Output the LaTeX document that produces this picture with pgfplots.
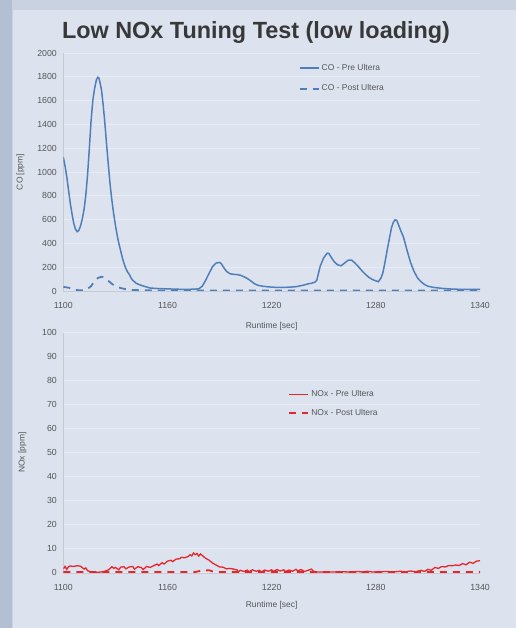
\documentclass[border=0pt]{standalone}
\usepackage{fontspec}
\setmainfont{Liberation Sans}
\usepackage{pgfplots}
\pgfplotsset{compat=1.18}
\definecolor{panel}{HTML}{DCE3EF}
\definecolor{outer}{HTML}{C9D2E1}
\definecolor{strip}{HTML}{B3BFD2}
\definecolor{cob}{HTML}{4F7FBA}
\definecolor{noxr}{HTML}{E5262B}
\definecolor{txt}{HTML}{555555}
\definecolor{gridc}{HTML}{E8EDF5}
\definecolor{axc}{HTML}{C4C9D2}
\pgfplotsset{
  myax/.style={
    scale only axis,
    width=416.7bp,
    xmin=1100, xmax=1340,
    xtick={1100,1160,1220,1280,1340},
    axis x line=bottom, axis y line=left,
    axis line style={axc, -},
    major tick length=0pt,
    ymajorgrids, grid style={gridc, line width=0.8pt},
    tick label style={font=\fontsize{8.8}{9}\selectfont, txt},
    label style={font=\fontsize{8.5}{9}\selectfont, txt},
    /pgf/number format/assume math mode=true,
    /pgf/number format/1000 sep={},
    xticklabel style={yshift=-8bp},
    yticklabel style={xshift=-3bp},
    xlabel={Runtime [sec]},
    legend cell align=left,
    legend style={draw=none, fill=none, font=\fontsize{8.5}{9}\selectfont, text=txt, row sep=9bp, inner sep=0pt},
    legend image code/.code={\draw[#1] (0bp,0bp) -- (19bp,0bp);},
  }
}
\begin{document}
\begin{tikzpicture}
\path[use as bounding box] (0,0) rectangle (516bp,628bp);
\fill[outer] (0,0) rectangle (516bp,628bp);
\fill[strip] (0,0) rectangle (12bp,628bp);
\fill[panel] (13bp,0) rectangle (516bp,618bp);
\node[font=\fontsize{23.5}{26}\selectfont\bfseries, text=black!78, anchor=center] at (256bp,595bp) {Low NOx Tuning Test (low loading)};

\begin{axis}[myax,
  at={(63.3bp,337bp)}, anchor=south west,
  height=238bp,
  ymin=0, ymax=2000,
  ytick={0,200,...,2000},
  ylabel={CO [ppm]},
  ylabel style={yshift=6bp},
  xlabel style={yshift=-7bp},
  legend style={at={(rel axis cs:0.565,0.962)}, anchor=north west},
]
\addplot[cob, line width=1.5pt] coordinates {
(1100,1125) (1101,1050) (1102,960) (1103,850) (1104,740) (1105,650) (1106,570) (1107,520) (1108,498) (1109,510)
(1110,550) (1111,610) (1112,690) (1113,810) (1114,980) (1115,1200) (1116,1430) (1117,1600) (1118,1700) (1119,1770)
(1119.8,1796) (1120.5,1790) (1121,1760) (1122,1690) (1123,1560) (1124,1400) (1125,1220) (1126,1050) (1127,890) (1128,760)
(1129,650) (1130,555) (1131,470) (1132,400) (1133,340) (1134,280) (1135,230) (1136,190) (1137,160) (1138,140)
(1139,110) (1140,90) (1142,65) (1144,52) (1146,42) (1150,25) (1155,20) (1160,18) (1165,15) (1170,14)
(1175,15) (1178,18) (1180,40) (1182,90) (1184,150) (1186,205) (1188,235) (1190,240) (1191,230) (1192,205)
(1194,165) (1196,145) (1198,140) (1200,138) (1202,133) (1204,120) (1206,105) (1208,85) (1210,62) (1212,48)
(1215,40) (1218,35) (1222,31) (1226,30) (1230,32) (1234,36) (1238,48) (1241,60) (1243,65) (1245,75)
(1246,90) (1247,150) (1248,210) (1250,280) (1252,318) (1253,315) (1254,290) (1256,246) (1258,220) (1260,212)
(1262,235) (1264,258) (1266,260) (1268,235) (1270,204) (1272,170) (1274,140) (1276,115) (1278,97) (1280,85)
(1281.5,78) (1283,110) (1284,150) (1285,220) (1286,300) (1287,380) (1288,455) (1289,530) (1290,575) (1291,597)
(1292,595) (1293,560) (1294,520) (1296,450) (1298,340) (1300,240) (1302,165) (1304,110) (1306,78) (1308,55)
(1310,40) (1313,31) (1318,22) (1325,15) (1332,14) (1340,14)
};
\addlegendentry{CO - Pre Ultera}
\addplot[cob, line width=1.8pt, dash pattern=on 7bp off 6bp] coordinates {
(1100,35) (1102,30) (1104,25) (1107,10) (1110,5) (1113,8) (1116,40) (1118,85) (1120,110) (1122,120)
(1124,110) (1126,85) (1128,60) (1130,40) (1133,25) (1136,15) (1140,8) (1150,5) (1340,5)
};
\addlegendentry{CO - Post Ultera}
\end{axis}

\begin{axis}[myax,
  at={(63.3bp,55.3bp)}, anchor=south west,
  height=240bp,
  ymin=0, ymax=100,
  ytick={0,10,...,100},
  ylabel={NOx [ppm]},
  ylabel style={yshift=9bp},
  xlabel style={yshift=-4bp},
  legend style={at={(rel axis cs:0.540,0.767)}, anchor=north west, row sep=7bp},
]
\addplot[noxr, line width=1.3pt] coordinates {
(1100,1.5) (1101,2.6) (1102,1.4) (1103,2.5) (1104,2.8) (1106,2.6) (1108,2.9) (1110,2.7) (1112,1.5) (1113,2.0)
(1114,0.8) (1116,0.3) (1118,0.2) (1120,0.2) (1122,0.3) (1124,0.6) (1126,1.2) (1127,1.8) (1128,2.5) (1129,1.8)
(1130,2.2) (1132,1.2) (1133,2.3) (1135,2.5) (1136,1.6) (1138,2.4) (1140,2.6) (1141,1.5) (1143,2.5) (1145,2.1)
(1146,1.3) (1148,2.6) (1150,2.2) (1152,2.9) (1154,3.6) (1155,3.0) (1157,4.2) (1158,3.6) (1160,4.8) (1162,5.2)
(1163,4.6) (1165,5.7) (1167,5.8) (1168,6.4) (1170,6.2) (1172,6.8) (1173,7.5) (1174,7.0) (1175,8.2) (1176,7.5)
(1177,8.0) (1178,6.9) (1179,7.8) (1180,7.2) (1182,6.0) (1184,5.2) (1186,4.0) (1188,3.2) (1190,2.4) (1192,2.3)
(1194,1.6) (1196,1.8) (1198,1.5) (1200,1.2) (1201,0.4) (1202,1.0) (1204,0.5) (1206,1.1) (1207,0.4) (1209,1.2)
(1211,0.6) (1213,1.0) (1214,0.3) (1216,1.1) (1218,0.6) (1220,1.2) (1221,0.5) (1223,1.3) (1225,0.7) (1227,1.2)
(1228,0.5) (1230,1.1) (1232,0.6) (1234,1.4) (1235,0.8) (1237,1.3) (1239,0.5) (1241,1.0) (1243,1.5) (1244,0.6)
(1246,0.3) (1250,0.3) (1255,0.3) (1260,0.4) (1265,0.3) (1270,0.5) (1272,0.3) (1275,0.6) (1278,0.3) (1282,0.4)
(1286,0.5) (1290,0.3) (1294,0.6) (1297,0.4) (1300,0.7) (1303,0.4) (1306,1.0) (1308,0.5) (1310,1.4) (1312,1.0)
(1314,2.2) (1316,1.8) (1318,2.6) (1320,2.4) (1322,3.0) (1324,2.9) (1326,3.2) (1328,3.0) (1330,3.8) (1332,3.3)
(1334,4.4) (1336,3.9) (1338,4.8) (1340,5.0)
};
\addlegendentry{NOx - Pre Ultera}
\addplot[noxr, line width=1.8pt, dash pattern=on 7bp off 6bp] coordinates {
(1100,0.3) (1176,0.3) (1180,0.9) (1184,1.0) (1187,0.3) (1340,0.3)
};
\addlegendentry{NOx - Post Ultera}
\end{axis}
\end{tikzpicture}
\end{document}
